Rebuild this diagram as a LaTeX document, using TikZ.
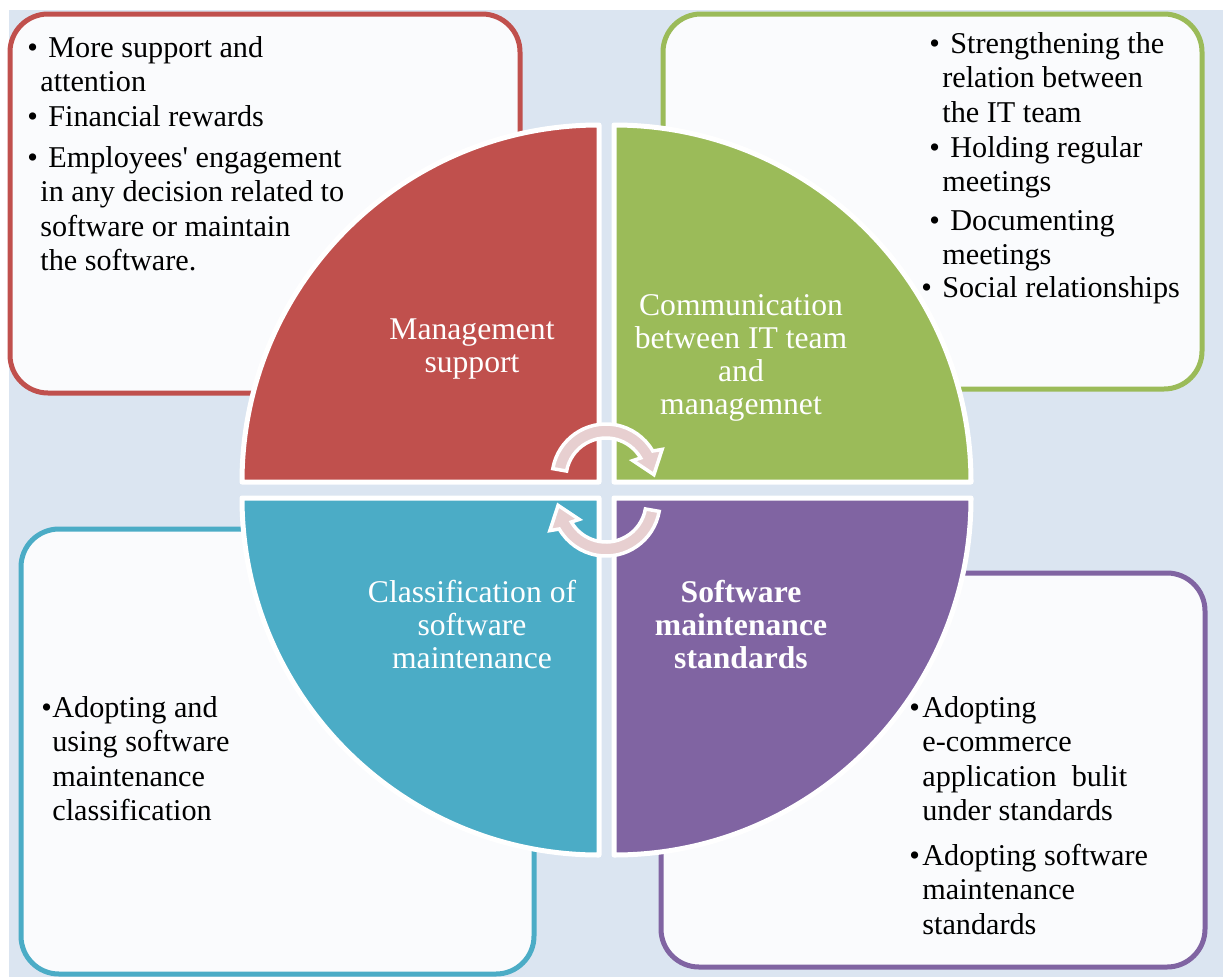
\documentclass[tikz,border=0pt]{standalone}
\usepackage{fontspec}
\setmainfont{Liberation Serif}
\newlength\pxu \setlength\pxu{0.02cm}
\definecolor{bgblue}{RGB}{219,229,241}
\definecolor{qred}{RGB}{192,80,77}
\definecolor{qgreen}{RGB}{155,187,89}
\definecolor{qcyan}{RGB}{75,172,198}
\definecolor{qpurple}{RGB}{128,100,162}
\definecolor{boxfill}{RGB}{250,251,253}
\definecolor{arrowpink}{RGB}{231,207,208}
\newcommand{\boxfont}{\fontsize{17.2}{19.63}\selectfont}
\newcommand{\labfont}{\fontsize{18}{18.78}\selectfont}
\newcommand{\topstrut}{\rule{0pt}{30\pxu}}
\newcommand{\hb}[1]{\topstrut\hspace*{-13\pxu}\makebox[21\pxu][l]{•}#1}
\newcommand{\tb}[1]{\topstrut\hspace*{-13\pxu}\makebox[13\pxu][l]{•}#1}
\begin{document}
\begin{tikzpicture}[x=0.02cm,y=-0.02cm,
 infobox/.style={draw=#1, line width=5\pxu, fill=boxfill, rounded corners=38\pxu},
 quarter/.style={fill=#1, draw=white, line width=5\pxu, line join=round},
 cyclearrow/.style={fill=arrowpink, draw=white, line width=3.5\pxu, line join=miter},
 itemtext/.style={anchor=north west, align=left, inner sep=0pt, font=\boxfont, text=black},
 quadlabel/.style={anchor=north, align=center, inner sep=0pt, font=\labfont, text=white}]

\useasboundingbox (0,0) rectangle (1223,977);
\fill[bgblue] (9,10) rectangle (1223,977);

% side boxes
\draw[infobox=qred] (10,14) rectangle (520,393);
\draw[infobox=qgreen] (663,14) rectangle (1202,389);
\draw[infobox=qcyan] (21,529) rectangle (534,974);
\draw[infobox=qpurple] (661,573) rectangle (1205,967);

% quarter discs
\path[quarter=qred] (599,482) -- ++(-357,0) arc[start angle=180, end angle=270, radius=357] -- cycle;
\path[quarter=qgreen] (614,482) -- ++(0,-357) arc[start angle=270, end angle=360, radius=357] -- cycle;
\path[quarter=qcyan] (599,498) -- ++(0,357) arc[start angle=90, end angle=180, radius=357] -- cycle;
\path[quarter=qpurple] (614,498) -- ++(357,0) arc[start angle=0, end angle=90, radius=357] -- cycle;

% circular arrows
\begin{scope}[shift={(606,478)}]
\path[cyclearrow] (190:54) arc[start angle=190, end angle=330, radius=54] -- (333:63) -- (356:48) -- (327:32) -- (330:40) arc[start angle=330, end angle=190, radius=40] -- cycle;
\end{scope}
\begin{scope}[shift={(606,502)}]
\path[cyclearrow] (10:54) arc[start angle=10, end angle=150, radius=54] -- (153:63) -- (176:48) -- (147:32) -- (150:40) arc[start angle=150, end angle=10, radius=40] -- cycle;
\end{scope}

% quadrant labels
\node[quadlabel] (lm) at (472,309) {\topstrut Management\\support};
\node[quadlabel] (lc) at (741,285) {\topstrut Communication\\between IT team\\and\\managemnet};
\node[quadlabel] (lcl) at (472,572) {\topstrut Classification of\\software\\maintenance};
\node[quadlabel, font=\labfont\bfseries] (ls) at (741,572) {\topstrut Software\\maintenance\\standards};

% red box text
\node[itemtext] (r1) at (40,27) {\hb{More support and}\\attention};
\node[itemtext] (r2) at (40,96) {\hb{Financial rewards}};
\node[itemtext] (r3) at (40,137) {\hb{Employees\textquotesingle{} engagement}\\in any decision related to\\software or maintain\\the software.};

% green box text
\node[itemtext] (g1) at (942,23) {\hb{Strengthening the}\\relation between\\the IT team};
\node[itemtext] (g2) at (942,127) {\hb{Holding regular}\\meetings};
\node[itemtext] (g3) at (942,200) {\hb{Documenting}\\meetings};
\node[itemtext] (g4) at (921,267) {\topstrut\makebox[21\pxu][l]{•}Social relationships};

% cyan box text
\node[itemtext] (c1) at (52,687) {\topstrut\hspace*{-11\pxu}\makebox[11\pxu][l]{•}Adopting and\\using software\\maintenance\\classification};

% purple box text
\node[itemtext] (p1) at (922,687) {\tb{Adopting}\\e-commerce\\application \ bulit\\under standards};
\node[itemtext] (p2) at (922,835) {\tb{Adopting software}\\maintenance\\standards};
\end{tikzpicture}
\end{document}
